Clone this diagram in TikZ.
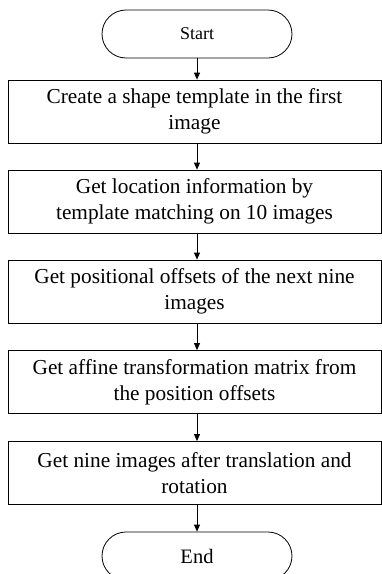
\documentclass[tikz,border=0pt]{standalone}
\usepackage{fontspec}
\setmainfont{Liberation Serif}
\usetikzlibrary{shapes.misc,arrows.meta}
\tikzset{
  term/.style={draw,rounded rectangle,minimum width=190pt,minimum height=48pt,inner sep=0pt,font=\fontsize{18}{21}\selectfont},
  stepbox/.style={draw,rectangle,minimum width=373pt,minimum height=63pt,inner sep=0pt,align=center,font=\fontsize{21.3}{26}\selectfont},
  flow/.style={-{Triangle[length=7pt,width=6pt]}}
}
\begin{document}
\begin{tikzpicture}[x=1pt,y=-1pt,line width=0.8pt]
      \useasboundingbox (0,0) rectangle (382,574);

      % Start and end terminals
      \node[term] (start) at (197,34) {Start};
      \node[term,font=\fontsize{20.5}{24}\selectfont] (stop) at (197,556) {End};

      % Processing steps
      \node[stepbox] (create) at (194.5,111.5) {Create a shape template in the first\\image};
      \node[stepbox] (locate) at (194.5,201.5) {Get location information by\\template matching on 10 images};
      \node[stepbox] (offset) at (194.5,291.5) {Get positional offsets of the next nine\\images};
      \node[stepbox] (affine) at (194.5,382) {Get affine transformation matrix from\\the position offsets};
      \node[stepbox] (rotate) at (194.5,473) {Get nine images after translation and\\rotation};

      % Arrows
      \draw[flow] (start.south -| 197,0) -- (create.north -| 197,0);
      \draw[flow] (create.south -| 197,0) -- (locate.north -| 197,0);
      \draw[flow] (locate.south -| 197,0) -- (offset.north -| 197,0);
      \draw[flow] (offset.south -| 197,0) -- (affine.north -| 197,0);
      \draw[flow] (affine.south -| 197,0) -- (rotate.north -| 197,0);
      \draw[flow] (rotate.south -| 197,0) -- (stop.north -| 197,0);
  \end{tikzpicture}
\end{document}
